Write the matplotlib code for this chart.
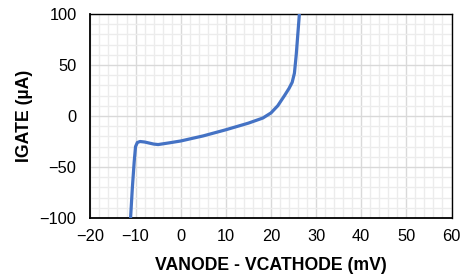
import matplotlib
matplotlib.use("Agg")
import matplotlib.pyplot as plt
from matplotlib.ticker import MultipleLocator

v_mv = [-11.1, -10.7, -10.3, -10.0, -9.6, -9.0, -8.0, -7.0, -6.0, -5.0, -2.5, 0.0, 5.0, 10.0, 15.0, 18.2, 20.0, 21.5, 23.0, 24.0, 24.7, 25.2, 25.6, 26.3]
i_ua = [-100, -70, -45, -30, -26, -25, -25.5, -26.5, -27.5, -28, -26.3, -24.5, -19.5, -13.5, -7, -2, 3, 10, 20, 27, 33, 42, 60, 100]

xticks = [-20, -10, 0, 10, 20, 30, 40, 50, 60]
yticks = [-100, -50, 0, 50, 100]

plt.rcParams['font.family'] = ['Liberation Sans', 'DejaVu Sans']

fig = plt.figure(figsize=(4.65, 2.79), dpi=100)
ax = fig.add_axes([90.4/465, 1 - 218/279, (451.5 - 90.4)/465, (218 - 14)/279])

ax.plot(v_mv, i_ua, color='#4472C4', lw=2.3, solid_capstyle='butt', solid_joinstyle='round', zorder=3)

ax.set_xlim(-20, 60)
ax.set_ylim(-100, 100)
ax.set_xticks(xticks)
ax.set_yticks(yticks)
ax.xaxis.set_minor_locator(MultipleLocator(2))
ax.yaxis.set_minor_locator(MultipleLocator(10))
ax.grid(which='major', color='#d9d9d9', lw=1.0, zorder=1)
ax.grid(which='minor', color='#ececec', lw=1.0, zorder=0)
ax.set_axisbelow(True)
ax.tick_params(which='both', length=0, labelsize=11.8, colors='black')
ax.tick_params(axis='y', pad=10)
ax.tick_params(axis='x', pad=8)
for s in ax.spines.values():
    s.set_color('black')
    s.set_linewidth(1.0)
ax.spines['left'].set_linewidth(1.3)
ax.spines['bottom'].set_linewidth(1.3)

ax.set_xlabel('VANODE - VCATHODE (mV)', fontsize=12.7, fontweight='bold')
ax.set_ylabel('IGATE (µA)', fontsize=12.7, fontweight='bold')
ax.xaxis.set_label_coords(0.5, (218 - 256.5) / 204)
ax.yaxis.set_label_coords((33.0 - 90.4) / 361.1, 0.5)

fig.savefig('out.png', dpi=100)
